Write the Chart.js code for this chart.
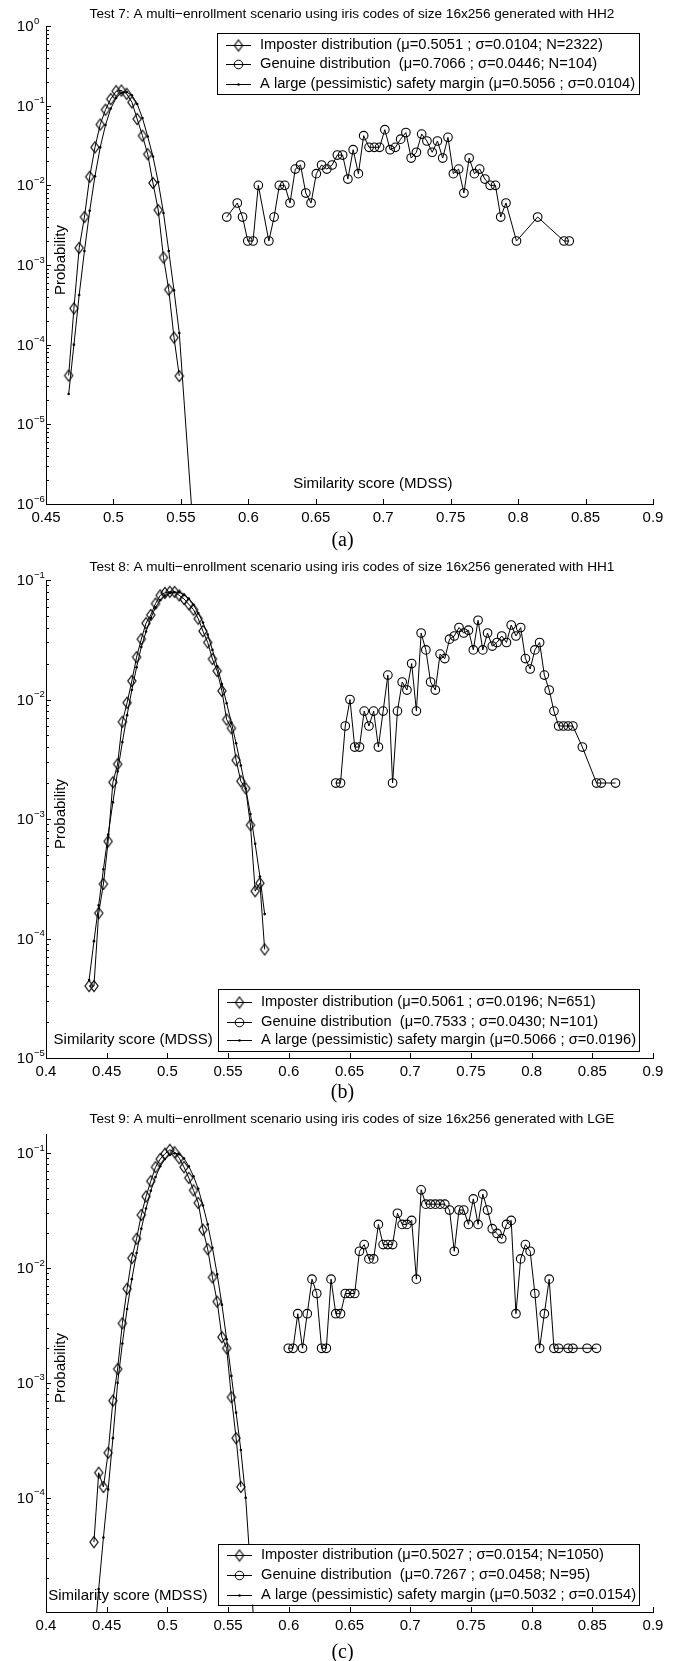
<!DOCTYPE html>
<html>
<head>
<meta charset="utf-8">
<title>Multi-enrollment iris code tests</title>
<script src="https://cdn.jsdelivr.net/npm/chart.js@4.4.1/dist/chart.umd.min.js"></script>
<style>
  body { margin: 0; background: #fff; }
  #page { position: relative; width: 685px; height: 1661px; overflow: hidden; }
  #page canvas { position: absolute; left: 0; }
  .cap { position: absolute; left: 0; width: 685px; text-align: center; color: #000;
         font-family: 'Liberation Serif', 'Times New Roman', serif; font-size: 20px; line-height: 20px; }
</style>
</head>
<body>
<div id="page">
  <canvas id="chartA" width="685" height="554" style="top:0"></canvas>
  <canvas id="chartB" width="685" height="554" style="top:554px"></canvas>
  <canvas id="chartC" width="685" height="553" style="top:1108px"></canvas>
  <div class="cap" style="top:529px">(a)</div>
  <div class="cap" style="top:1081px">(b)</div>
  <div class="cap" style="top:1641px">(c)</div>
</div>
<script>
const FONT = "'Liberation Sans', Arial, Helvetica, sans-serif";

// tick labels
const xTicksA = [0.45, 0.5, 0.55, 0.6, 0.65, 0.7, 0.75, 0.8, 0.85, 0.9];
const xTicksBC = [0.4, 0.45, 0.5, 0.55, 0.6, 0.65, 0.7, 0.75, 0.8, 0.85, 0.9];
const yDecadesA = [1e-6, 1e-5, 1e-4, 1e-3, 1e-2, 1e-1, 1];
const yDecadesB = [1e-5, 1e-4, 1e-3, 1e-2, 1e-1];
const yDecadesC = [1e-4, 1e-3, 1e-2, 1e-1];

const xLabel = 'Similarity score (MDSS)';
const yLabel = 'Probability';

// Test 7 - HH2
const titleA = 'Test 7: A multi\u2212enrollment scenario using iris codes of size 16x256 generated with HH2';
const labelsA = ['Imposter distribution (\u03bc=0.5051 ; \u03c3=0.0104; N=2322)',
                 'Genuine distribution  (\u03bc=0.7066 ; \u03c3=0.0446; N=104)',
                 'A large (pessimistic) safety margin (\u03bc=0.5056 ; \u03c3=0.0104)'];
const impXA = [0.4668, 0.4707, 0.4746, 0.4785, 0.4824, 0.4863, 0.4902, 0.4941, 0.4980, 0.5020, 0.5059,
               0.5098, 0.5137, 0.5176, 0.5215, 0.5254, 0.5293, 0.5332, 0.5371, 0.5410, 0.5449, 0.5488];
const impYA = [4.1e-5, 2.85e-4, 1.64e-3, 4.0e-3, 0.0128, 0.030, 0.058, 0.089, 0.121, 0.152, 0.155,
               0.141, 0.110, 0.068, 0.042, 0.0246, 0.0107, 0.0049, 0.00124, 4.9e-4, 1.23e-4, 4.05e-5];
const genXA = [0.5840, 0.5918, 0.5957, 0.5996, 0.6035, 0.6074, 0.6152, 0.6191, 0.6230, 0.6270, 0.6309,
               0.6348, 0.6387, 0.6426, 0.6465, 0.6504, 0.6543, 0.6582, 0.6621, 0.6660, 0.6699, 0.6738,
               0.6777, 0.6816, 0.6855, 0.6895, 0.6934, 0.6973, 0.7012, 0.7051, 0.7090, 0.7129, 0.7168,
               0.7207, 0.7246, 0.7285, 0.7324, 0.7363, 0.7402, 0.7441, 0.7480, 0.7520, 0.7559, 0.7598,
               0.7637, 0.7676, 0.7715, 0.7754, 0.7793, 0.7832, 0.7871, 0.7910, 0.7988, 0.8145, 0.8340, 0.8379];
const genYA = [0.004, 0.006, 0.004, 0.002, 0.002, 0.010, 0.002, 0.004, 0.010, 0.010, 0.006,
               0.016, 0.018, 0.008, 0.006, 0.014, 0.018, 0.016, 0.018, 0.024, 0.024, 0.012,
               0.028, 0.014, 0.042, 0.030, 0.030, 0.030, 0.050, 0.028, 0.030, 0.038, 0.046,
               0.022, 0.026, 0.044, 0.036, 0.026, 0.036, 0.022, 0.040, 0.014, 0.016, 0.008,
               0.022, 0.014, 0.016, 0.012, 0.010, 0.010, 0.004, 0.006, 0.002, 0.004, 0.002, 0.002];
const safXA = [0.4668, 0.4707, 0.4746, 0.4785, 0.4824, 0.4863, 0.4902, 0.4941, 0.4980, 0.5020, 0.5059,
               0.5098, 0.5137, 0.5176, 0.5215, 0.5254, 0.5293, 0.5332, 0.5371, 0.5410, 0.5449, 0.5488, 0.5605];
const safYA = [2.4e-5, 1.0e-4, 4.2e-4, 1.5e-3, 4.8e-3, 0.013, 0.030, 0.057, 0.092, 0.125, 0.145,
               0.148, 0.135, 0.105, 0.070, 0.041, 0.023, 0.011, 0.0045, 1.5e-3, 4.8e-4, 1.4e-4, 2.2e-7];

// Test 8 - HH1
const titleB = 'Test 8: A multi\u2212enrollment scenario using iris codes of size 16x256 generated with HH1';
const labelsB = ['Imposter distribution (\u03bc=0.5061 ; \u03c3=0.0196; N=651)',
                 'Genuine distribution  (\u03bc=0.7533 ; \u03c3=0.0430; N=101)',
                 'A large (pessimistic) safety margin (\u03bc=0.5066 ; \u03c3=0.0196)'];
const impXB = [0.4355, 0.4395, 0.4434, 0.4473, 0.4512, 0.4551, 0.4590, 0.4629, 0.4668, 0.4707,
               0.4746, 0.4785, 0.4824, 0.4863, 0.4902, 0.4941, 0.4980, 0.5020, 0.5059, 0.5098,
               0.5137, 0.5176, 0.5215, 0.5254, 0.5293, 0.5332, 0.5371, 0.5410, 0.5449, 0.5488,
               0.5527, 0.5566, 0.5605, 0.5645, 0.5684, 0.5723, 0.5762, 0.5801];
const impYB = [4.0e-5, 4.0e-5, 1.63e-4, 2.86e-4, 6.5e-4, 2.03e-3, 2.88e-3, 6.5e-3, 9.4e-3, 0.0143,
               0.0226, 0.032, 0.0435, 0.051, 0.0635, 0.0743, 0.078, 0.0797, 0.0795, 0.0743,
               0.0694, 0.0627, 0.0565, 0.0475, 0.0373, 0.030, 0.0218, 0.0173, 0.0118, 0.0068,
               0.00575, 0.0031, 0.00207, 0.0018, 8.9e-4, 2.49e-4, 2.9e-4, 8.1e-5];
const genXB = [0.6387, 0.6426, 0.6465, 0.6504, 0.6543, 0.6582, 0.6621, 0.6660, 0.6699, 0.6738,
               0.6777, 0.6816, 0.6855, 0.6895, 0.6934, 0.6973, 0.7012, 0.7051, 0.7090, 0.7129,
               0.7168, 0.7207, 0.7246, 0.7285, 0.7324, 0.7363, 0.7402, 0.7441, 0.7480, 0.7520,
               0.7559, 0.7598, 0.7637, 0.7676, 0.7715, 0.7754, 0.7793, 0.7832, 0.7871, 0.7910,
               0.7949, 0.7988, 0.8027, 0.8066, 0.8105, 0.8145, 0.8184, 0.8223, 0.8262, 0.8301, 0.8340,
               0.8418, 0.8535, 0.8574, 0.8691];
const genYB = [0.002, 0.002, 0.006, 0.010, 0.004, 0.004, 0.008, 0.006, 0.008, 0.004,
               0.008, 0.016, 0.002, 0.008, 0.014, 0.012, 0.020, 0.008, 0.036, 0.026,
               0.014, 0.012, 0.024, 0.022, 0.032, 0.034, 0.040, 0.036, 0.038, 0.026,
               0.046, 0.026, 0.036, 0.028, 0.030, 0.034, 0.030, 0.042, 0.034, 0.040,
               0.022, 0.018, 0.026, 0.030, 0.016, 0.012, 0.008, 0.006, 0.006, 0.006, 0.006,
               0.004, 0.002, 0.002, 0.002];
const safXB = impXB;
const safYB = [4.5e-5, 9.5e-5, 1.9e-4, 3.8e-4, 7.4e-4, 1.38e-3, 2.5e-3, 4.4e-3, 7.4e-3, 0.012,
               0.0186, 0.0275, 0.037, 0.048, 0.059, 0.068, 0.074, 0.078, 0.079, 0.079,
               0.075, 0.070, 0.062, 0.053, 0.044, 0.035, 0.026, 0.019, 0.0135, 0.0093,
               0.0064, 0.0043, 0.0028, 0.0018, 0.0011, 6.2e-4, 3.3e-4, 1.6e-4];

// Test 9 - LGE
const titleC = 'Test 9: A multi\u2212enrollment scenario using iris codes of size 16x256 generated with LGE';
const labelsC = ['Imposter distribution (\u03bc=0.5027 ; \u03c3=0.0154; N=1050)',
                 'Genuine distribution  (\u03bc=0.7267 ; \u03c3=0.0458; N=95)',
                 'A large (pessimistic) safety margin (\u03bc=0.5032 ; \u03c3=0.0154)'];
const impXC = [0.4395, 0.4434, 0.4473, 0.4512, 0.4551, 0.4590, 0.4629, 0.4668, 0.4707, 0.4746,
               0.4785, 0.4824, 0.4863, 0.4902, 0.4941, 0.4980, 0.5020, 0.5059, 0.5098, 0.5137,
               0.5176, 0.5215, 0.5254, 0.5293, 0.5332, 0.5371, 0.5410, 0.5449, 0.5488, 0.5527,
               0.5566, 0.5605];
const impYC = [4.1e-5, 1.65e-4, 1.24e-4, 2.46e-4, 7.0e-4, 1.32e-3, 3.3e-3, 6.6e-3, 0.0122, 0.018,
               0.029, 0.042, 0.057, 0.0756, 0.089, 0.099, 0.107, 0.102, 0.0905, 0.0756,
               0.061, 0.0475, 0.0369, 0.0216, 0.0146, 8.3e-3, 5.1e-3, 2.5e-3, 2.0e-3, 7.5e-4,
               3.3e-4, 1.24e-4];
const genXC = [0.5996, 0.6035, 0.6074, 0.6113, 0.6152, 0.6191, 0.6230, 0.6270, 0.6309, 0.6348,
               0.6387, 0.6426, 0.6465, 0.6504, 0.6543, 0.6582, 0.6621, 0.6660, 0.6699, 0.6738,
               0.6777, 0.6816, 0.6855, 0.6895, 0.6934, 0.6973, 0.7012, 0.7051, 0.7090, 0.7129,
               0.7168, 0.7207, 0.7246, 0.7285, 0.7324, 0.7363, 0.7402, 0.7441, 0.7480, 0.7520,
               0.7559, 0.7598, 0.7637, 0.7676, 0.7715, 0.7754, 0.7793, 0.7832, 0.7871, 0.7910,
               0.7949, 0.7988, 0.8027, 0.8066, 0.8105, 0.8145, 0.8184, 0.8223,
               0.8301, 0.8340, 0.8457, 0.8535];
const genYC = [0.002, 0.002, 0.004, 0.002, 0.004, 0.008, 0.006, 0.002, 0.002, 0.008,
               0.004, 0.004, 0.006, 0.006, 0.006, 0.014, 0.016, 0.012, 0.012, 0.024,
               0.016, 0.016, 0.016, 0.030, 0.024, 0.024, 0.026, 0.008, 0.048, 0.036,
               0.036, 0.036, 0.036, 0.036, 0.032, 0.014, 0.032, 0.032, 0.024, 0.040,
               0.024, 0.044, 0.032, 0.022, 0.020, 0.018, 0.024, 0.026, 0.004, 0.012,
               0.016, 0.014, 0.006, 0.002, 0.004, 0.008, 0.002, 0.002,
               0.002, 0.002, 0.002, 0.002];
const safXC = [0.4395, 0.4434, 0.4473, 0.4512, 0.4551, 0.4590, 0.4629, 0.4668, 0.4707, 0.4746,
               0.4785, 0.4824, 0.4863, 0.4902, 0.4941, 0.4980, 0.5020, 0.5059, 0.5098, 0.5137,
               0.5176, 0.5215, 0.5254, 0.5293, 0.5332, 0.5371, 0.5410, 0.5449, 0.5488, 0.5527,
               0.5566, 0.5605, 0.5645, 0.5684, 0.5723];
const safYC = [5.4e-6, 1.6e-5, 4.5e-5, 1.18e-4, 3.3e-4, 1.0e-3, 2.2e-3, 4.4e-3, 8.0e-3, 0.0135,
               0.022, 0.033, 0.047, 0.062, 0.077, 0.089, 0.097, 0.100, 0.098, 0.090,
               0.077, 0.063, 0.049, 0.035, 0.024, 0.015, 8.8e-3, 4.8e-3, 2.4e-3, 1.15e-3,
               5.5e-4, 2.6e-4, 1.0e-4, 2.4e-5, 5e-6];

// matlab style hollow diamond, a bit taller than wide
function diamondMarker() {
  const c = document.createElement('canvas');
  c.width = 12; c.height = 14;
  const g = c.getContext('2d');
  g.strokeStyle = '#000';
  g.lineWidth = 1.15;
  g.beginPath();
  g.moveTo(6, 1.5); g.lineTo(10.1, 7); g.lineTo(6, 12.5); g.lineTo(1.9, 7);
  g.closePath();
  g.stroke();
  return c;
}
const DIAMOND = diamondMarker();

function drawMarker(ctx, i, x, y) {
  if (i === 0) {
    ctx.drawImage(DIAMOND, x - 6, y - 7);
  } else if (i === 1) {
    ctx.beginPath(); ctx.arc(x, y, 4.3, 0, 2 * Math.PI); ctx.stroke();
  } else {
    ctx.beginPath(); ctx.arc(x, y, 1.3, 0, 2 * Math.PI); ctx.fill();
  }
}

// ticks inside, 10^n labels, titles, labels and the boxed legend
const matlabLook = {
  id: 'matlabLook',
  afterDraw(chart, args, o) {
    const ctx = chart.ctx, area = chart.chartArea;
    const xs = chart.scales.x, ys = chart.scales.y;
    ctx.save();
    ctx.strokeStyle = '#000';
    ctx.fillStyle = '#000';
    ctx.lineWidth = 1;

    ctx.beginPath();
    xs.ticks.forEach(t => {
      const px = Math.round(xs.getPixelForValue(t.value)) + 0.5;
      ctx.moveTo(px, area.bottom);
      ctx.lineTo(px, area.bottom - 5);
    });
    ys.ticks.forEach(t => {
      const py = Math.round(ys.getPixelForValue(t.value)) + 0.5;
      ctx.moveTo(area.left, py);
      ctx.lineTo(area.left + (t.major ? 5 : 3), py);
    });
    ctx.stroke();

    ctx.textBaseline = 'middle';
    o.decades.forEach(v => {
      const py = ys.getPixelForValue(v);
      const e = Math.round(Math.log10(v));
      ctx.font = '15px ' + FONT;
      ctx.textAlign = 'right';
      ctx.fillText('10', 33.5, py + 1);
      ctx.font = '9.5px ' + FONT;
      ctx.textAlign = 'left';
      ctx.fillText(e === 0 ? '0' : '\u2212' + (-e), 34, py - 5);
    });

    ctx.font = '13.6px ' + FONT;
    ctx.textAlign = 'center';
    ctx.fillText(o.title, 352, o.titleY);

    ctx.font = '15px ' + FONT;
    ctx.textAlign = o.xlab.align;
    ctx.fillText(xLabel, o.xlab.x, o.xlab.y);

    ctx.save();
    ctx.translate(64.5, 260);
    ctx.rotate(-Math.PI / 2);
    ctx.textAlign = 'center';
    ctx.textBaseline = 'alphabetic';
    ctx.fillText(yLabel, 0, 0);
    ctx.restore();

    const L = o.legend;
    ctx.fillStyle = '#fff';
    ctx.fillRect(L.left, L.top, L.right - L.left, L.bottom - L.top);
    ctx.strokeRect(Math.round(L.left) + 0.5, Math.round(L.top) + 0.5,
                   Math.round(L.right - L.left), Math.round(L.bottom - L.top));
    ctx.fillStyle = '#000';
    ctx.font = '14.7px ' + FONT;
    ctx.textAlign = 'left';
    ctx.textBaseline = 'middle';
    chart.data.datasets.forEach((ds, i) => {
      const y = L.rows[i];
      const ly = Math.round(y) + 0.5;
      ctx.beginPath();
      ctx.moveTo(L.left + 9, ly);
      ctx.lineTo(L.left + 34, ly);
      ctx.stroke();
      drawMarker(ctx, i, L.left + 21.5, ly);
      ctx.fillText(ds.label, L.left + 43, y);
    });
    ctx.restore();
  }
};

function pairs(xs, ys) {
  return xs.map((x, i) => ({ x: x, y: ys[i] }));
}

function makeChart(id, cfg) {
  const canvas = document.getElementById(id);
  return new Chart(canvas, {
    type: 'line',
    data: {
      datasets: [
        { label: cfg.labels[0], data: pairs(cfg.imp[0], cfg.imp[1]), borderColor: '#000', borderWidth: 1,
          pointStyle: DIAMOND, pointRadius: 4.5, tension: 0 },
        { label: cfg.labels[1], data: pairs(cfg.gen[0], cfg.gen[1]), borderColor: '#000', borderWidth: 1,
          pointStyle: 'circle', pointRadius: 4.3, pointBorderWidth: 1.1, pointBorderColor: '#000',
          pointBackgroundColor: 'rgba(0,0,0,0)', tension: 0 },
        { label: cfg.labels[2], data: pairs(cfg.saf[0], cfg.saf[1]), borderColor: '#000', borderWidth: 1,
          pointStyle: 'circle', pointRadius: 1.3, pointBorderWidth: 0, pointBackgroundColor: '#000', tension: 0 }
      ]
    },
    options: {
      responsive: false,
      animation: false,
      devicePixelRatio: 1,
      events: [],
      layout: { padding: { top: 26, right: 32, bottom: 0, left: 0 } },
      plugins: {
        legend: { display: false },
        tooltip: { enabled: false },
        matlabLook: cfg.deco
      },
      scales: {
        x: {
          type: 'linear',
          min: cfg.xTicks[0],
          max: 0.9,
          grid: { display: false, drawTicks: false },
          border: { display: true, color: '#000', width: 1 },
          ticks: {
            autoSkip: false, maxRotation: 0, color: '#000', padding: 5,
            font: { family: FONT, size: 15 },
            callback: v => String(v)
          },
          afterBuildTicks: s => { s.ticks = cfg.xTicks.map(v => ({ value: v })); },
          afterFit: s => { s.height = canvas.height - 504; }
        },
        y: {
          type: 'logarithmic',
          min: cfg.yMin,
          max: cfg.yMax,
          grid: { display: false, drawTicks: false },
          border: { display: true, color: '#000', width: 1 },
          ticks: { display: false },
          afterBuildTicks: s => {
            const t = cfg.deco.decades.map(v => ({ value: v, major: true }));
            for (let e = Math.floor(Math.log10(s.min)); e <= Math.ceil(Math.log10(s.max)); e++) {
              for (let m = 2; m < 10; m++) {
                const v = m * Math.pow(10, e);
                if (v >= s.min && v <= s.max) t.push({ value: v, major: false });
              }
            }
            s.ticks = t;
          },
          afterFit: s => { s.width = 46; }
        }
      }
    },
    plugins: [matlabLook]
  });
}

makeChart('chartA', {
  labels: labelsA, imp: [impXA, impYA], gen: [genXA, genYA], saf: [safXA, safYA],
  xTicks: xTicksA, yMin: 1e-6, yMax: 1,
  deco: {
    decades: yDecadesA, title: titleA, titleY: 14,
    xlab: { x: 372.8, y: 484, align: 'center' },
    legend: { left: 217, top: 32.5, right: 639, bottom: 93.7, rows: [44.5, 64.3, 84.1] }
  }
});

makeChart('chartB', {
  labels: labelsB, imp: [impXB, impYB], gen: [genXB, genYB], saf: [safXB, safYB],
  xTicks: xTicksBC, yMin: 1e-5, yMax: 0.1,
  deco: {
    decades: yDecadesB, title: titleB, titleY: 13,
    xlab: { x: 53.6, y: 485.6, align: 'left' },
    legend: { left: 218, top: 435, right: 639, bottom: 497.4, rows: [448.1, 467.8, 485.6] }
  }
});

makeChart('chartC', {
  labels: labelsC, imp: [impXC, impYC], gen: [genXC, genYC], saf: [safXC, safYC],
  xTicks: xTicksBC, yMin: 1.01e-5, yMax: 0.147,
  deco: {
    decades: yDecadesC, title: titleC, titleY: 11.6,
    xlab: { x: 48.2, y: 487.6, align: 'left' },
    legend: { left: 218, top: 436, right: 639, bottom: 496.6, rows: [447.3, 466.9, 486.6] }
  }
});
</script>
</body>
</html>
